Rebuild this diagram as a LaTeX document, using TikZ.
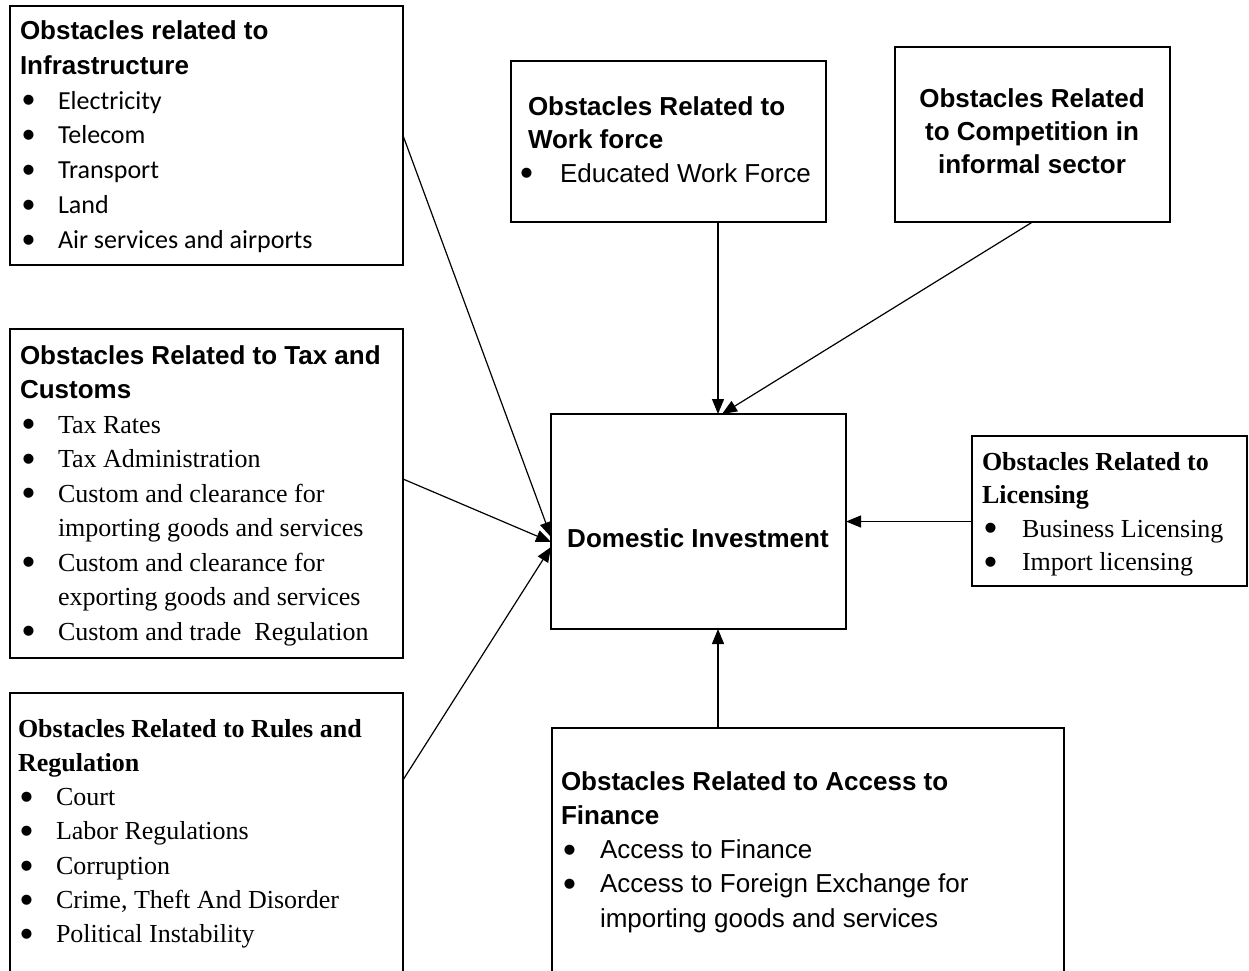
\documentclass[tikz,border=0pt]{standalone}
\usepackage{fontspec}
\setmainfont{Liberation Serif}
\newfontfamily\arial{Liberation Sans}
\newfontfamily\calib{Carlito}
\usetikzlibrary{arrows.meta,calc}
\newcommand\bl[1][38pt]{\makebox[#1][l]{\hspace{2pt}{\arial\fontsize{37}{37}\selectfont\raisebox{-3.8pt}{\textbullet}}}}
\tikzset{
  box/.style={draw, line width=1.4pt, rectangle, inner sep=0pt, outer sep=0pt, anchor=north west, fill=none},
  txt/.style={anchor=base west, inner sep=0pt, outer sep=0pt},
  arr/.style={line width=1.2pt, -{Triangle[length=15pt,width=12pt]}}
}
\begin{document}
\begin{tikzpicture}[x=1pt,y=-1pt]
\useasboundingbox (0,0) rectangle (1249,970);
\clip (0,0) rectangle (1249,970);
\fill[white] (0,0) rectangle (1249,970);
% boxes
\node[box, minimum width=393pt, minimum height=259pt] (infra) at (10,6) {};
\node[box, minimum width=393pt, minimum height=329pt] (tax) at (10,329) {};
\node[box, minimum width=393pt, minimum height=300pt] (rules) at (10,693) {};
\node[box, minimum width=315pt, minimum height=161pt] (work) at (511,61) {};
\node[box, minimum width=275pt, minimum height=175pt] (comp) at (895,47) {};
\node[box, minimum width=295pt, minimum height=215pt] (dom) at (551,414) {};
\node[box, minimum width=275pt, minimum height=150pt] (lic) at (972,436) {};
\node[box, minimum width=512pt, minimum height=300pt] (fin) at (552,728) {};
% texts
\node[txt] (infraT) at (20,39.5) {\fontsize{26}{34.8}\selectfont\begin{tabular}[t]{@{}l@{}}
{\arial\bfseries Obstacles related to}\\
{\arial\bfseries Infrastructure}\\
\bl{\calib Electricity}\\
\bl{\calib Telecom}\\
\bl{\calib Transport}\\
\bl{\calib Land}\\
\bl{\calib Air services and airports}
\end{tabular}};
\node[txt] (taxT) at (20,364) {\fontsize{26}{34.5}\selectfont\begin{tabular}[t]{@{}l@{}}
{\arial\bfseries Obstacles Related to Tax and}\\
{\arial\bfseries Customs}\\
\bl Tax Rates\\
\bl Tax Administration\\
\bl Custom and clearance for\\
\hspace*{38pt}importing goods and services\\
\bl Custom and clearance for\\
\hspace*{38pt}exporting goods and services\\
\bl Custom and trade\ \ Regulation
\end{tabular}};
\node[txt] (rulesT) at (18,737) {\fontsize{26}{34.3}\selectfont\begin{tabular}[t]{@{}l@{}}
{\bfseries Obstacles Related to Rules and}\\
{\bfseries Regulation}\\
\bl Court\\
\bl Labor Regulations\\
\bl Corruption\\
\bl Crime, Theft And Disorder\\
\bl Political Instability
\end{tabular}};
\node[txt] (workT) at (518,115) {\fontsize{26}{33.5}\selectfont\arial\begin{tabular}[t]{@{}l@{}}
\hspace*{10pt}{\bfseries Obstacles Related to}\\
\hspace*{10pt}{\bfseries Work force}\\
\bl[42pt]Educated Work Force
\end{tabular}};
\node[anchor=base, inner sep=0pt] (compT) at (1032,107) {\fontsize{26}{33}\selectfont\arial\bfseries\begin{tabular}[t]{@{}c@{}}
Obstacles Related\\
to Competition in\\
informal sector
\end{tabular}};
\node[anchor=base, inner sep=0pt] (domT) at (698,547) {\fontsize{26}{30}\selectfont\arial\bfseries Domestic Investment};
\node[txt] (licT) at (982,470) {\fontsize{26}{33.5}\selectfont\begin{tabular}[t]{@{}l@{}}
{\bfseries Obstacles Related to}\\
{\bfseries Licensing}\\
\bl[40pt]Business Licensing\\
\bl[40pt]Import licensing
\end{tabular}};
\node[txt] (finT) at (561,790) {\fontsize{26}{34.3}\selectfont\arial\begin{tabular}[t]{@{}l@{}}
{\bfseries Obstacles Related to Access to}\\
{\bfseries Finance}\\
\bl[39pt]Access to Finance\\
\bl[39pt]Access to Foreign Exchange for\\
\hspace*{39pt}importing goods and services
\end{tabular}};
% connectors
\coordinate (wt) at ($(dom.north west)+(167,0)$);
\coordinate (ct) at ($(dom.north west)+(171,0)$);
\draw[arr] (infra.east) -- ($(dom.north west)+(0,123)$);
\draw[arr] ($(tax.north east)+(0,150)$) -- ($(dom.north west)+(0,128)$);
\draw[arr] ($(rules.north east)+(0,87)$) -- ($(dom.north west)+(0,133)$);
\draw[arr] (work.south -| wt) -- (wt);
\draw[arr] (comp.south) -- (ct);
\draw[arr] (lic.west |- dom.east) -- (dom.east);
\draw[arr] (fin.north -| wt) -- (dom.south -| wt);
\end{tikzpicture}
\end{document}
